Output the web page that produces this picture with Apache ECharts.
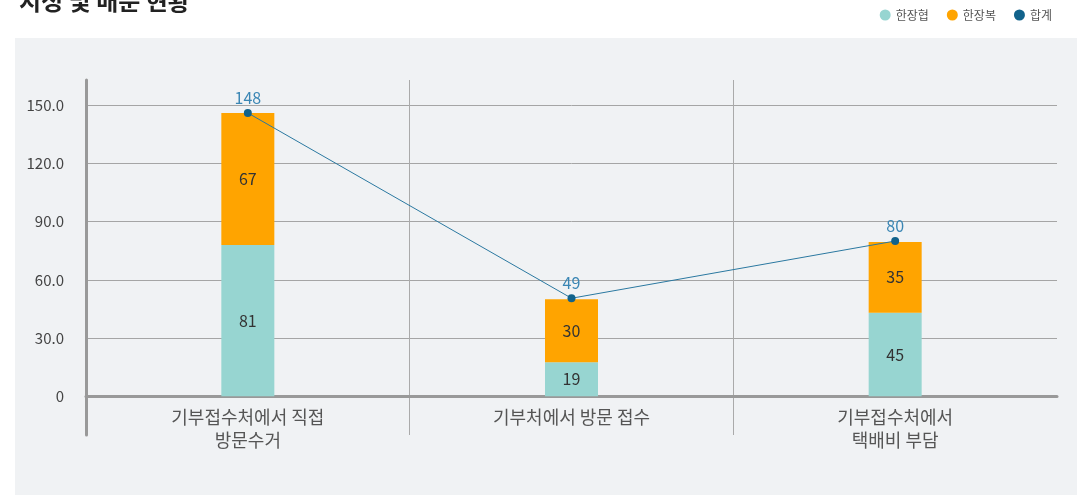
<!DOCTYPE html>
<html>
<head>
<meta charset="utf-8">
<script src="https://cdn.jsdelivr.net/npm/echarts@6/dist/echarts.min.js"></script>
<style>
  html, body { margin:0; padding:0; background:#ffffff; }
  #panel { position:absolute; left:15px; top:38px; width:1062px; height:457px; background:#f0f2f4; }
  #chart { position:absolute; left:0; top:0; width:1077px; height:495px; }
</style>
</head>
<body>
<div id="panel"></div>
<div id="chart"></div>
<script>
const titleText = '지정 및 배분 현황';
const categories = ['기부접수처에서 직접\n방문수거', '기부처에서 방문 접수', '기부접수처에서\n택배비 부담'];
const seriesNames = ['한장협', '한장복', '합계'];
// bar heights as drawn in the picture
const hjhValues = [78, 17.5, 43];
const hjbValues = [68, 32.5, 36.5];
const totalValues = [146, 50.5, 80];
// value labels as printed in the picture
const hjhLabels = ['81', '19', '45'];
const hjbLabels = ['67', '30', '35'];
const totalLabels = ['148', '49', '80'];

const FONT = '"Noto Sans CJK KR", "Noto Sans", sans-serif';
const chart = echarts.init(document.getElementById('chart'), null, {renderer:'canvas'});
chart.setOption({
  backgroundColor: 'transparent',
  textStyle: { fontFamily: FONT },
  title: {
    text: titleText, left: 14, top: -16,
    textStyle: { fontSize: 24, fontWeight: 'bold', color: '#222', fontFamily: FONT }
  },
  legend: {
    right: 20, top: 4, icon: 'circle', itemWidth: 11, itemHeight: 11, itemGap: 18,
    data: seriesNames,
    textStyle: { fontSize: 12, color: '#555', fontFamily: FONT }
  },
  grid: { left: 86, right: 20, top: 80, bottom: 60, containLabel: false },
  xAxis: {
    type: 'category',
    data: categories,
    boundaryGap: true,
    axisLine: { show: true, onZero: true, lineStyle: { color: '#999', width: 3 } },
    axisTick: { show: false },
    axisLabel: { fontSize: 18, color: '#555', lineHeight: 23, margin: -29, fontFamily: FONT, interval: 0 },
    splitLine: { show: true, interval: 0, showMinLine: false, showMaxLine: false, lineStyle: { color: '#aaa', width: 1 } }
  },
  yAxis: {
    type: 'value',
    min: -20, max: 163,
    minInterval: 30, maxInterval: 30,
    axisLine: { show: true, lineStyle: { color: '#999', width: 3 } },
    axisTick: { show: false },
    axisLabel: {
      fontSize: 15, color: '#444', margin: 22, fontFamily: FONT,
      showMinLabel: false, showMaxLabel: false,
      formatter: function (v) {
        if (v < 0 || Math.abs(v % 30) > 1e-6) return '';
        return v === 0 ? '0' : v.toFixed(1);
      }
    },
    splitLine: { show: true, showMinLine: false, showMaxLine: false, lineStyle: { color: '#a5a5a5', width: 1 } }
  },
  series: [
    {
      name: seriesNames[0], type: 'bar', stack: 'total', barWidth: 53,
      data: hjhValues,
      itemStyle: { color: '#97d5d1' },
      label: { show: true, position: 'inside', fontSize: 16, color: '#333', fontFamily: FONT,
        formatter: p => hjhLabels[p.dataIndex] }
    },
    {
      name: seriesNames[1], type: 'bar', stack: 'total', barWidth: 53,
      data: hjbValues,
      itemStyle: { color: '#ffa400' },
      label: { show: true, position: 'inside', fontSize: 16, color: '#333', fontFamily: FONT,
        formatter: p => hjbLabels[p.dataIndex] }
    },
    {
      name: seriesNames[2], type: 'line', data: totalValues, z: 5,
      symbol: 'circle', symbolSize: 8,
      itemStyle: { color: '#11628b' },
      lineStyle: { color: '#2a78a0', width: 1 },
      label: { show: true, position: 'top', distance: 3, fontSize: 16, color: '#3a86b4', fontFamily: FONT,
        formatter: p => totalLabels[p.dataIndex] }
    }
  ],
  animation: false
});
</script>
</body>
</html>
